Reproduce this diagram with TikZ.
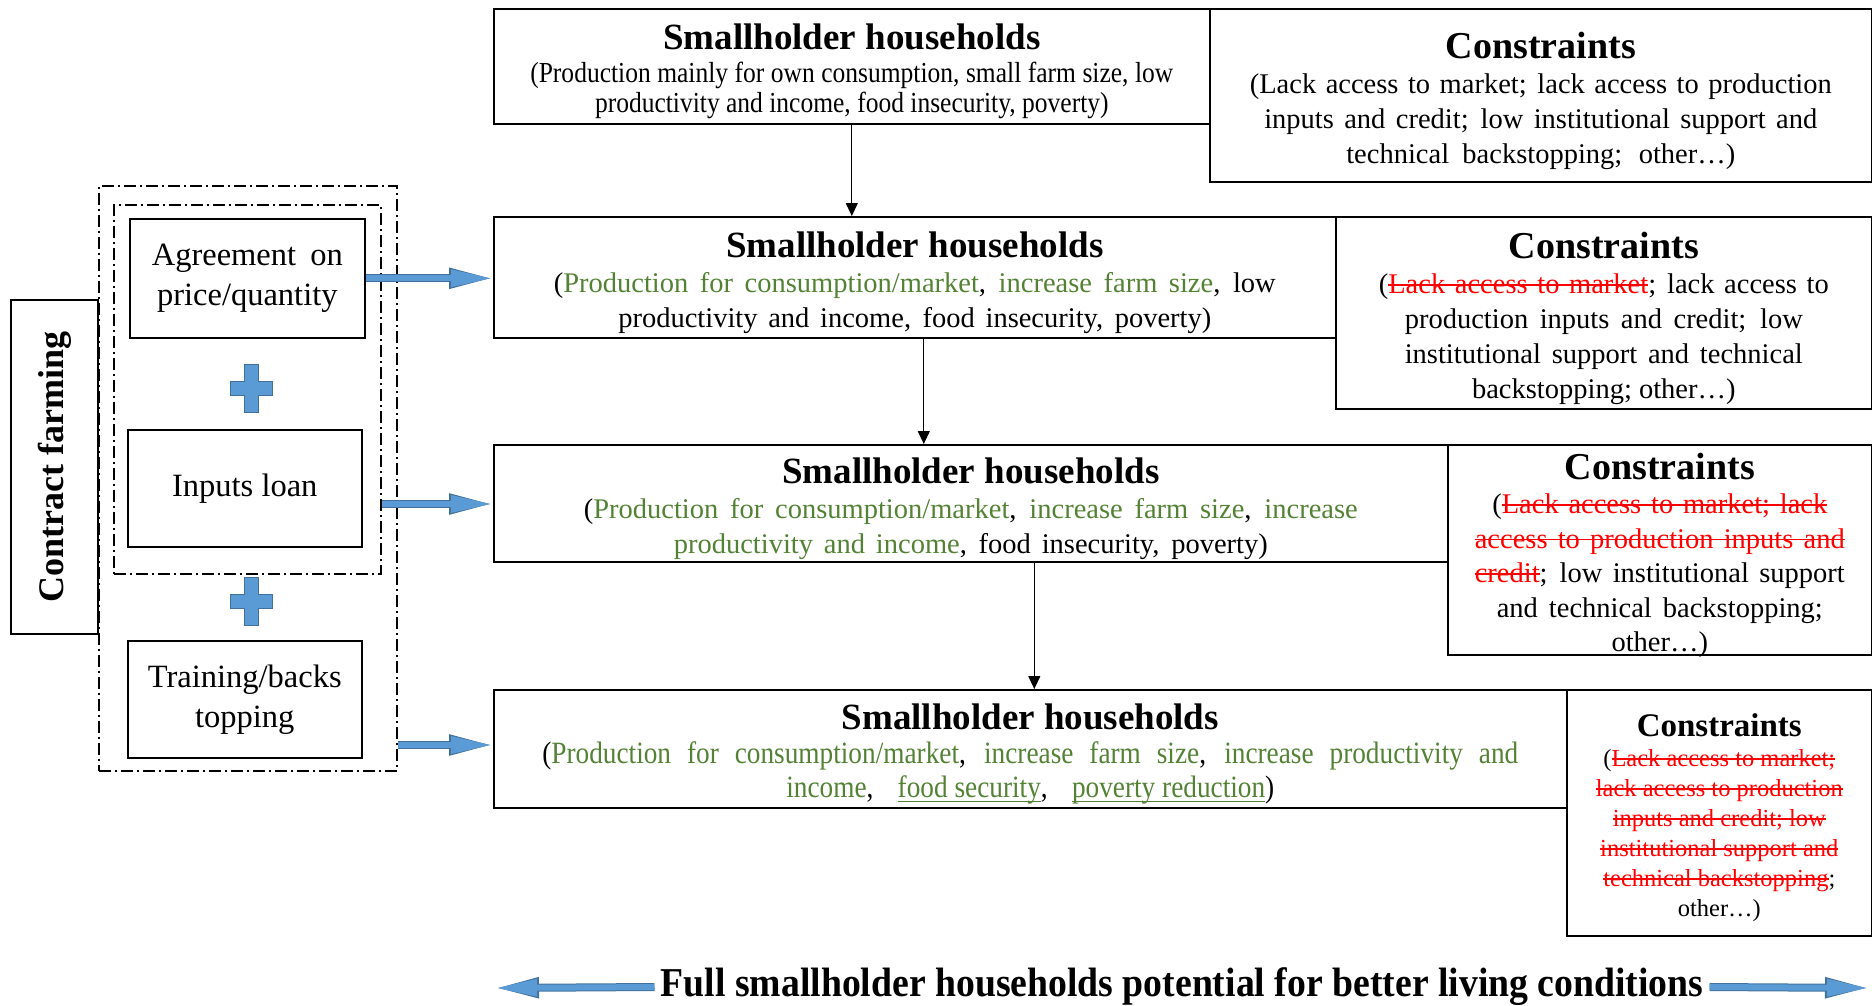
\documentclass[tikz,border=0pt]{standalone}
\usepackage{fontspec}
\usetikzlibrary{arrows.meta}
\setmainfont{Liberation Serif}
\newfontfamily\narrowserif[FakeStretch=0.88]{Liberation Serif}
\newfontfamily\bannerfont[FakeStretch=0.92]{Liberation Serif}
\definecolor{arrowblue}{HTML}{5B9BD5}
\definecolor{arrowedge}{HTML}{41719C}
\definecolor{goodgreen}{HTML}{548235}
\definecolor{badred}{HTML}{FF0000}
\newcommand{\head}[2][38]{{\rmfamily\bfseries\fontsize{#1}{#1}\selectfont\rule{0pt}{0.98em}#2}}
\newcommand{\jl}[2]{\makebox[#1pt][s]{#2}}
\newcommand{\good}[1]{\textcolor{goodgreen}{#1}}
% struck words, spaces between them stay stretchable
\newcommand{\strikebox}[1]{\setbox0\hbox{#1}\rlap{\rule[0.27em]{\wd0}{1.5pt}}\box0}
\newcommand{\strikespace}{\leaders\hrule height \dimexpr0.27em+1.5pt\relax depth -0.27em
  \hskip\fontdimen2\font plus\fontdimen3\font minus\fontdimen4\font}
\def\goneloop#1 #2\goneend{\strikebox{#1}\ifx\relax#2\relax\else\strikespace\goneloop#2\goneend\fi}
\newcommand{\gone}[1]{\textcolor{badred}{\goneloop#1 \goneend}}
\newcommand{\under}[1]{\setbox0\hbox{#1}\rlap{\rule[-0.14em]{\wd0}{1.2pt}}\box0}
\tikzset{
  box/.style={draw, line width=1.6pt, inner sep=0pt, anchor=north west, align=center},
  dashbox/.style={draw, line width=1.6pt, dash pattern=on 12pt off 4pt on 2pt off 4pt,
    inner sep=0pt, anchor=north west},
  flow/.style={line width=1.2pt, -{Triangle[length=13pt,width=12pt]}},
  fat/.style={line width=6pt, draw=arrowblue, -{Triangle[length=42pt,width=16pt]},
    preaction={draw=arrowedge, line width=8pt, -{Triangle[length=44pt,width=19pt]}}},
  plus/.style={fill=arrowblue, draw=arrowedge, line width=1pt},
  leftbox/.style={box, minimum width=234pt, minimum height=117pt,
    font=\fontsize{32.5}{40}\selectfont}
}
\begin{document}
\begin{tikzpicture}[x=1pt, y=-1pt]
  \useasboundingbox (0,0) rectangle (1872,1006);
  % smallholder boxes
  \node[box, minimum width=716pt, minimum height=115pt,
    font=\narrowserif\fontsize{29}{30}\selectfont] (sh1) at (493,8)
    {\head[37]{Smallholder households}\\[3pt]
     \jl{643}{(Production mainly for own consumption, small farm size, low}\\
     productivity and income, food insecurity, poverty)};
  \node[box, minimum width=842pt, minimum height=121pt,
    font=\fontsize{28.5}{35}\selectfont] (sh2) at (493,216)
    {\head[37]{Smallholder households}\\
     \jl{722}{(\good{Production for consumption/market}, \good{increase farm size}, low}\\
     \jl{593}{productivity and income, food insecurity, poverty)}};
  \node[box, minimum width=954pt, minimum height=117pt,
    font=\fontsize{28.5}{35}\selectfont] (sh3) at (493,444)
    {\head[37]{Smallholder households}\\
     \jl{774}{(\good{Production for consumption/market}, \good{increase farm size}, \good{increase}}\\
     \jl{594}{\good{productivity and income}, food insecurity, poverty)}};
  \node[box, minimum width=1073pt, minimum height=118pt,
    font=\narrowserif\fontsize{31}{34}\selectfont] (sh4) at (493,689)
    {\head[37]{Smallholder households}\\
     \jl{976}{(\good{Production for consumption/market}, \good{increase farm size}, \good{increase productivity and}}\\
     \jl{488}{\good{income}, \good{\under{food security}}, \good{\under{poverty reduction}})}};
  % constraints
  \node[box, minimum width=662pt, minimum height=173pt,
    font=\fontsize{28.5}{35}\selectfont] (c1) at (1209,8)
    {\head{Constraints}\\
     \jl{582}{(Lack access to market; lack access to production}\\
     \jl{553}{inputs and credit; low institutional support and}\\
     \jl{389}{technical backstopping; other…)}};
  \node[box, minimum width=536pt, minimum height=192pt,
    font=\fontsize{28.5}{35}\selectfont] (c2) at (1335,216)
    {\head{Constraints}\\
     \jl{450}{(\gone{Lack access to market}; lack access to}\\
     \jl{398}{production inputs and credit; low}\\
     \jl{398}{institutional support and technical}\\
     backstopping; other…)};
  \node[box, minimum width=424pt, minimum height=210pt, inner ysep=-8pt,
    font=\fontsize{28.5}{34.5}\selectfont] (c3) at (1447,444)
    {\head{Constraints}\\
     \jl{335}{(\gone{Lack access to market; lack}}\\
     \jl{370}{\gone{access to production inputs and}}\\
     \jl{370}{\gone{credit}; low institutional support}\\
     \jl{326}{and technical backstopping;}\\
     other…)};
  \node[box, minimum width=305pt, minimum height=246pt,
    font=\fontsize{24.5}{30}\selectfont] (c4) at (1566,689)
    {\head[33]{Constraints}\\
     (\gone{Lack access to market;}\\
     \gone{lack access to production}\\
     \gone{inputs and credit; low}\\
     \gone{institutional support and}\\
     \gone{technical backstopping};\\
     other…)};
  % contract farming
  \node[box, anchor=center, rotate=90, minimum width=334pt, minimum height=87pt,
    font=\bfseries\fontsize{36}{36}\selectfont] (contract) at (54.5,467) {Contract farming};
  \node[dashbox, minimum width=298pt, minimum height=585pt] (outer) at (98,185) {};
  \node[dashbox, minimum width=267pt, minimum height=369pt] (inner) at (113,204) {};
  \node[leftbox, minimum width=235pt, minimum height=119pt] (agree) at (129,218)
    {\jl{191}{Agreement on}\\price/quantity};
  \node[leftbox] (loan) at (127,429) {Inputs loan};
  \node[leftbox] (train) at (127,640) {Training/backs\\topping};
  \foreach \y in {388,601}
    \filldraw[plus, shift={(251,\y)}] (-7,-24) -- (7,-24) -- (7,-7)
      -- (21,-7) -- (21,7) -- (7,7) -- (7,24) -- (-7,24)
      -- (-7,7) -- (-21,7) -- (-21,-7) -- (-7,-7) -- cycle;
  % arrows
  \coordinate (row2) at (0,504);
  \coordinate (row3) at (0,745);
  \draw[fat] (agree.east) -- (agree.east -| sh2.west);
  \draw[fat] (inner.east |- row2) -- (sh3.west |- row2);
  \draw[fat] (outer.east |- row3) -- (sh4.west |- row3);
  \draw[flow] (sh1.south) -- (sh1.south |- sh2.north);
  \draw[flow] ([xshift=9pt]sh2.south) -- ([xshift=9pt]sh2.south |- sh3.north);
  \draw[flow] ([xshift=4pt]sh4.north |- sh3.south) -- ([xshift=4pt]sh4.north);
  % bottom line
  \node[font=\bannerfont\bfseries\fontsize{41}{41}\selectfont, inner sep=6pt] (full) at (1182,987)
    {Full smallholder households potential for better living conditions};
  \coordinate (leftend) at (495,988);
  \coordinate (rightend) at (1869,988);
  \draw[fat] (full.west) -- (leftend);
  \draw[fat] (full.east) -- (rightend);
\end{tikzpicture}
\end{document}
